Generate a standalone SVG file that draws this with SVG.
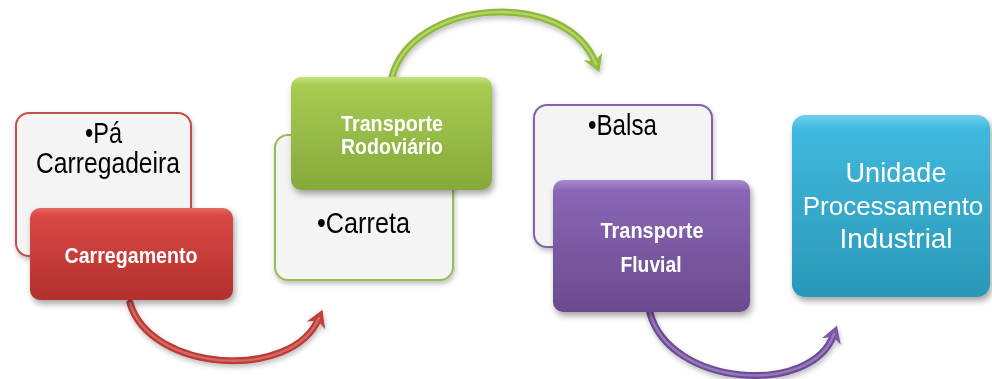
<svg xmlns="http://www.w3.org/2000/svg" width="992" height="379" viewBox="0 0 992 379">
<defs>
<style>
.back{fill:#f4f4f4;stroke-width:2}
.lbl{font-family:"Liberation Sans",Arial,sans-serif;font-size:29px;fill:#000}
.head{font-family:"Liberation Sans",Arial,sans-serif;font-weight:bold;font-size:22px;fill:#fff;text-anchor:middle}
.big{font-family:"Liberation Sans",Arial,sans-serif;font-size:28px;fill:#fff;text-anchor:middle}
.tube{fill:none;stroke-width:7;stroke-linecap:round}
.shine{fill:none;stroke-width:2.5;stroke-linecap:round;opacity:.45}
</style>
<filter id="sh" x="-20%" y="-20%" width="140%" height="150%">
<feDropShadow dx="2" dy="4" stdDeviation="3" flood-color="#000" flood-opacity="0.35"/>
</filter>
<filter id="sh2" x="-20%" y="-20%" width="140%" height="150%">
<feDropShadow dx="1" dy="3" stdDeviation="2.5" flood-color="#000" flood-opacity="0.25"/>
</filter>
<linearGradient id="gRed" x1="0" y1="0" x2="0" y2="1">
<stop offset="0" stop-color="#e86a66"/><stop offset="0.08" stop-color="#d94844"/><stop offset="1" stop-color="#b2302c"/>
</linearGradient>
<linearGradient id="gGreen" x1="0" y1="0" x2="0" y2="1">
<stop offset="0" stop-color="#c2e27a"/><stop offset="0.08" stop-color="#a6cb52"/><stop offset="1" stop-color="#86a93a"/>
</linearGradient>
<linearGradient id="gPurple" x1="0" y1="0" x2="0" y2="1">
<stop offset="0" stop-color="#a98bd0"/><stop offset="0.08" stop-color="#8a66b4"/><stop offset="1" stop-color="#6a4a8e"/>
</linearGradient>
<linearGradient id="gCyan" x1="0" y1="0" x2="0" y2="1">
<stop offset="0" stop-color="#6fd0ee"/><stop offset="0.08" stop-color="#3fb8dc"/><stop offset="1" stop-color="#2a98b8"/>
</linearGradient>
<marker id="aRed" markerUnits="userSpaceOnUse" markerWidth="30" markerHeight="30" refX="0" refY="0" orient="auto" overflow="visible">
<path d="M9,0 L-8,-10 L-3,0 L-8,10 Z" fill="#c0403c"/>
</marker>
<marker id="aGreen" markerUnits="userSpaceOnUse" markerWidth="30" markerHeight="30" refX="0" refY="0" orient="auto" overflow="visible">
<path d="M9,0 L-8,-10 L-3,0 L-8,10 Z" fill="#92bb3c"/>
</marker>
<marker id="aPurple" markerUnits="userSpaceOnUse" markerWidth="30" markerHeight="30" refX="0" refY="0" orient="auto" overflow="visible">
<path d="M9,0 L-8,-10 L-3,0 L-8,10 Z" fill="#7a58a4"/>
</marker>
</defs>
<rect width="992" height="379" fill="#fff"/>

<g id="connectors" filter="url(#sh2)">
<path class="tube" d="M130,303 C150,372 292,382 319,318" stroke="#bb3a36" marker-end="url(#aRed)"/>
<path class="shine" d="M130,303 C150,372 292,382 319,318" stroke="#f4a09c"/>
<path class="tube" d="M392,77 C412,0 565,-14 596,64" stroke="#8fb83a" marker-end="url(#aGreen)"/>
<path class="shine" d="M392,77 C412,0 565,-14 596,64" stroke="#e2f7a0"/>
<path class="tube" d="M650,313 C670,387 812,397 834,334" stroke="#6e4d96" marker-end="url(#aPurple)"/>
<path class="shine" d="M650,313 C670,387 812,397 834,334" stroke="#c6b0e6"/>
</g>

<g id="node-carregamento">
<rect class="back" x="16" y="113" width="175" height="143" rx="13" stroke="#c0504d" filter="url(#sh2)"/>
<text class="lbl" x="85" y="143" textLength="37" lengthAdjust="spacingAndGlyphs">•Pá</text>
<text class="lbl" x="36" y="173" textLength="144" lengthAdjust="spacingAndGlyphs">Carregadeira</text>
<rect x="30" y="208" width="203" height="92" rx="10" fill="url(#gRed)" filter="url(#sh)"/>
<text class="head" x="131" y="263" textLength="133" lengthAdjust="spacingAndGlyphs">Carregamento</text>
</g>

<g id="node-rodoviario">
<rect class="back" x="275" y="135" width="178" height="145" rx="13" stroke="#9bbb59" filter="url(#sh2)"/>
<text class="lbl" x="317" y="233" textLength="93" lengthAdjust="spacingAndGlyphs">•Carreta</text>
<rect x="291" y="77" width="201" height="113" rx="10" fill="url(#gGreen)" filter="url(#sh)"/>
<text class="head" x="392" y="131" textLength="102" lengthAdjust="spacingAndGlyphs">Transporte</text>
<text class="head" x="392" y="154" textLength="102" lengthAdjust="spacingAndGlyphs">Rodoviário</text>
</g>

<g id="node-fluvial">
<rect class="back" x="534" y="105" width="178" height="142" rx="13" stroke="#8064a2" filter="url(#sh2)"/>
<text class="lbl" x="588" y="135" textLength="69" lengthAdjust="spacingAndGlyphs">•Balsa</text>
<rect x="553" y="180" width="197" height="132" rx="10" fill="url(#gPurple)" filter="url(#sh)"/>
<text class="head" x="652" y="238" textLength="103" lengthAdjust="spacingAndGlyphs">Transporte</text>
<text class="head" x="651" y="272" textLength="61" lengthAdjust="spacingAndGlyphs">Fluvial</text>
</g>

<g id="node-industrial">
<rect x="792" y="115" width="198" height="182" rx="13" fill="url(#gCyan)" filter="url(#sh)"/>
<text class="big" x="896" y="182" textLength="101" lengthAdjust="spacingAndGlyphs">Unidade</text>
<text class="big" x="893" y="215" style="font-size:26px">Processamento</text>
<text class="big" x="896" y="248" textLength="113" lengthAdjust="spacingAndGlyphs">Industrial</text>
</g>
</svg>
